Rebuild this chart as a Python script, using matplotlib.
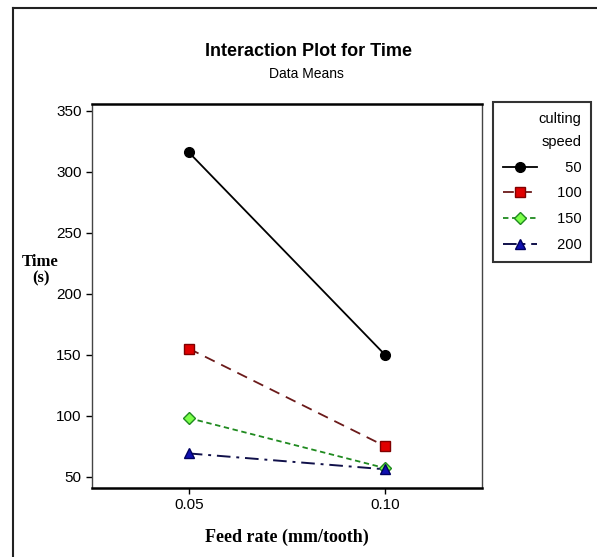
import matplotlib
matplotlib.use('Agg')
import matplotlib.pyplot as plt
from matplotlib.lines import Line2D

# data
feed_rate = [0.05, 0.10]
speeds = ['50', '100', '150', '200']
time_50 = [316, 150]
time_100 = [155, 75]
time_150 = [98, 57]
time_200 = [69, 56]

yticks = [50, 100, 150, 200, 250, 300, 350]

narrow = ['Liberation Sans', 'DejaVu Sans']
serif = ['Liberation Serif', 'DejaVu Serif']

fig = plt.figure(figsize=(5.97, 5.57), dpi=100)
ax = fig.add_axes([0.154, 0.124, 0.653, 0.689])

ax.plot(feed_rate, time_50, color='black', lw=1.3, ls='-',
        marker='o', ms=7, mfc='black', mec='black', label=speeds[0])
ax.plot(feed_rate, time_100, color='#6b1a1a', lw=1.3, ls=(0, (6, 4)),
        marker='s', ms=7, mfc='#e00000', mec='#800000', label=speeds[1])
ax.plot(feed_rate, time_150, color='#1f8a1f', lw=1.3, ls=(0, (3, 2)),
        marker='D', ms=6.5, mfc='#7cff4a', mec='#1f8a1f', label=speeds[2])
ax.plot(feed_rate, time_200, color='#10104a', lw=1.4, ls=(0, (7, 3, 1.5, 3)),
        marker='^', ms=7, mfc='#1010b0', mec='#000060', label=speeds[3])

ax.set_xlim(0.0253, 0.1247)
ax.set_ylim(40.7, 355.5)
ax.set_xticks(feed_rate)
ax.set_xticklabels(['0.05', '0.10'])
ax.set_yticks(yticks)
ax.tick_params(direction='out', length=4, width=1, labelsize=11)
for lab in ax.get_xticklabels() + ax.get_yticklabels():
    lab.set_family(narrow)

for s in ['top', 'bottom']:
    ax.spines[s].set_linewidth(1.8)
    ax.spines[s].set_color('black')
for s in ['left', 'right']:
    ax.spines[s].set_linewidth(1.0)
    ax.spines[s].set_color('#444444')

ax.set_xlabel('Feed rate (mm/tooth)', fontsize=13, fontweight='bold',
              family=serif, labelpad=12)
fig.text(0.068, 0.515, 'Time\n(s)', ha='center', va='center', fontsize=12,
         fontweight='bold', family=serif, linespacing=1.0)

fig.text(0.517, 0.908, 'Interaction Plot for Time', ha='center', va='center',
         fontsize=13, fontweight='bold', family=narrow)
fig.text(0.513, 0.868, 'Data Means', ha='center', va='center',
         fontsize=10, family=narrow)

handles = [h for h in ax.get_lines()]
labels = ['\u2007\u2007' + s if len(s) == 2 else '\u2007' + s for s in speeds]
leg = fig.legend(handles, labels, title='culting\nspeed',
                 loc='upper left', bbox_to_anchor=(0.826, 0.817),
                 frameon=True, fancybox=False, edgecolor='black',
                 handlelength=2.3, handletextpad=0.8, borderpad=0.7,
                 borderaxespad=0, labelspacing=0.8, alignment='right',
                 prop={'family': narrow, 'size': 10.5},
                 title_fontproperties={'family': narrow, 'size': 10.5})
leg.get_frame().set_linewidth(1.5)
leg.get_title().set_multialignment('right')
leg.get_title().set_linespacing(1.8)

# outer frame lines
fig.add_artist(Line2D([0.022, 1.0], [0.986, 0.986], color='#222222', lw=1.5,
                      transform=fig.transFigure))
fig.add_artist(Line2D([0.022, 0.022], [0.0, 0.986], color='#222222', lw=1.5,
                      transform=fig.transFigure))

fig.savefig('out.png', dpi=100)
